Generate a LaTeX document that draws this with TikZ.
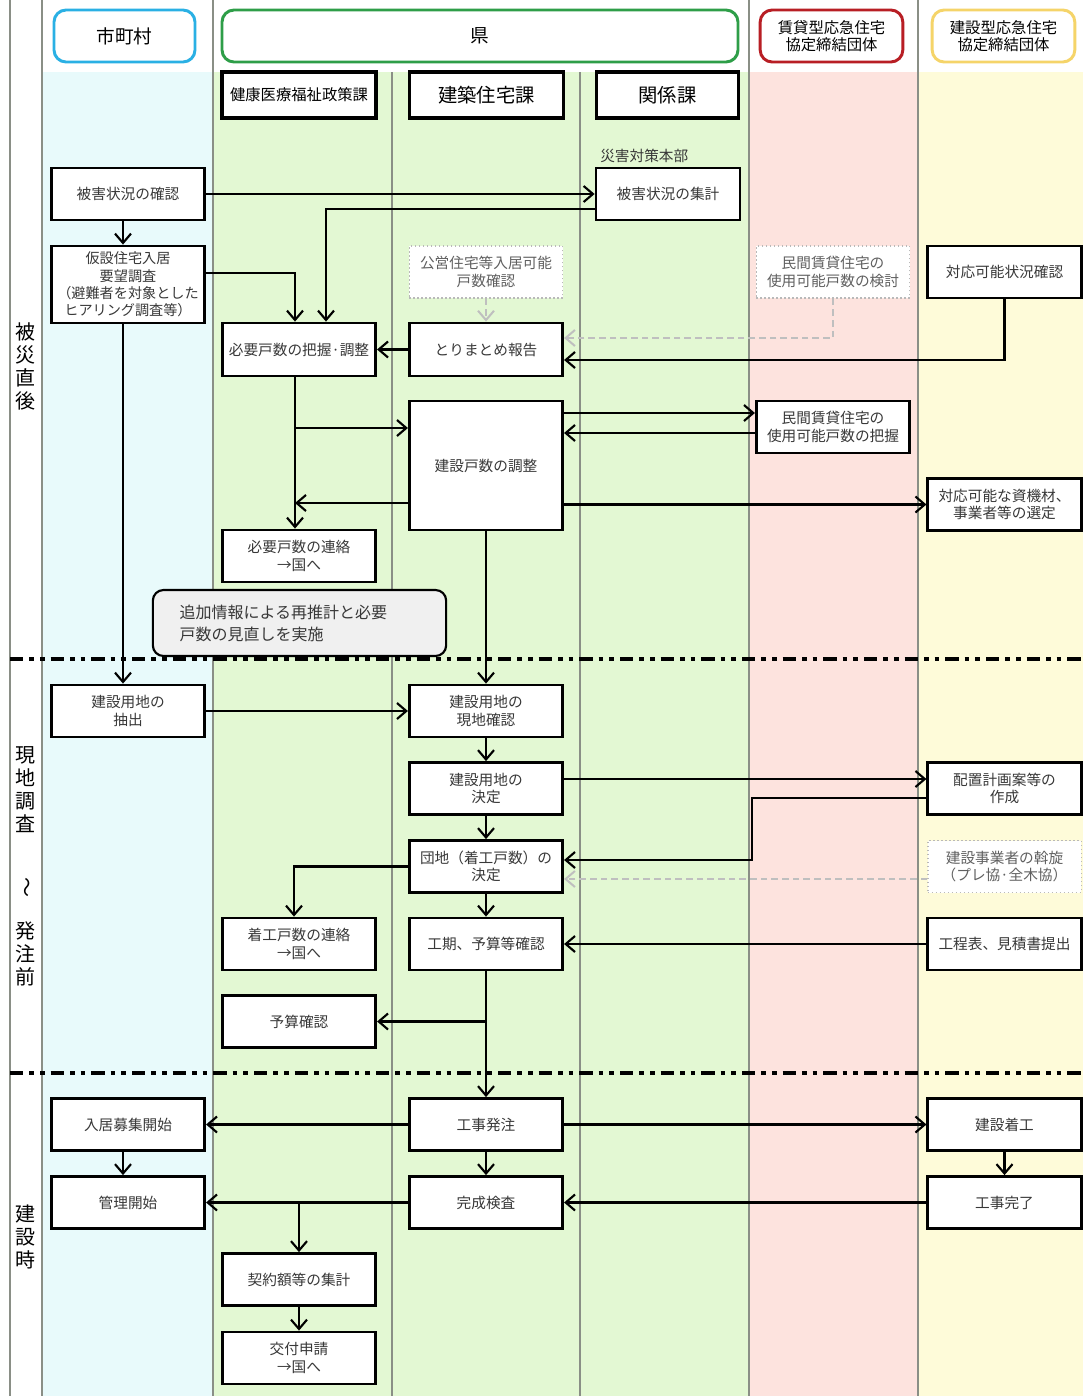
\documentclass[tikz,border=0pt]{standalone}
\usepackage{fontspec}
\setmainfont{Noto Sans CJK JP}
\usepackage{graphicx}
\usetikzlibrary{arrows.meta,calc}
\definecolor{lcyan}{HTML}{E8FAFB}
\definecolor{lgreen}{HTML}{E3F8D3}
\definecolor{lpink}{HTML}{FDE3DE}
\definecolor{lyellow}{HTML}{FEFBD9}
\definecolor{hcyan}{HTML}{2AB0E4}
\definecolor{hgreen}{HTML}{2E9E48}
\definecolor{hred}{HTML}{B81E24}
\definecolor{hyellow}{HTML}{F5D469}
\definecolor{txt}{HTML}{383838}
\definecolor{lanel}{HTML}{8A8F86}
\begin{document}
\begin{tikzpicture}[x=0.75pt,y=-0.75pt,
  every node/.style={text=txt},
  bx/.style={draw=black, line width=2.1pt, fill=white, minimum width=115pt, minimum height=39pt, inner sep=1pt, align=center, font=\fontsize{11}{13}\selectfont},
  dbx/.style={bx, draw=gray!55, line width=1pt, dotted, text=gray!75!black},
  hd/.style={draw, line width=2.2pt, rounded corners=9pt, fill=white, minimum height=39pt, align=center, text=black},
  sh/.style={draw=black, line width=2.3pt, fill=white, minimum height=34.5pt, inner sep=1pt, text=black},
  arr/.style={line width=1.6pt, draw=black, -{Straight Barb[length=7pt,width=12pt,line width=1.6pt]}},
  garr/.style={line width=1.5pt, draw=gray!50, dash pattern=on 5pt off 3pt, -{Straight Barb[length=7pt,width=12pt,line width=1.5pt]}},
  sepline/.style={line width=2.6pt, draw=black, dash pattern=on 10pt off 4.5pt on 3.5pt off 4.5pt on 3.5pt off 4.5pt},
  lane/.style={draw=lanel, line width=0.8pt},
  side/.style={font=\fontsize{15}{17.25}\selectfont, align=center, inner sep=0pt, text=black}
]
\useasboundingbox (0,0) rectangle (1083,1396);
\fill[white] (0,0) rectangle (1083,1396);
\fill[lcyan] (42,72) rectangle (213,1396);
\fill[lgreen] (213,72) rectangle (749,1396);
\fill[lpink] (749,72) rectangle (918,1396);
\fill[lyellow] (918,72) rectangle (1083,1396);
\draw[lane] (10,0) -- (10,1396);
\draw[lane] (42,0) -- (42,1396);
\draw[lane] (213,0) -- (213,1396);
\draw[lane] (749,0) -- (749,1396);
\draw[lane] (918,0) -- (918,1396);
\draw[lane] (392,72) -- (392,1396);
\draw[lane] (580,72) -- (580,1396);
\draw[sepline] (10,659) -- (1083,659);
\draw[sepline] (10,1073) -- (1083,1073);

% side labels
\node[side] (l1) at (25,366) {被\\災\\直\\後};
\node[side] (l2) at (25,866) {現\\地\\調\\査\\[17.25pt]\rotatebox{-90}{～}\\[17.25pt]発\\注\\前};
\node[side] (l3) at (25,1237) {建\\設\\時};

% headers
\node[hd, draw=hcyan, minimum width=105.75pt, font=\fontsize{14}{16}\selectfont] (hm) at (124.5,36) {市町村};
\node[hd, draw=hgreen, minimum width=387pt, font=\fontsize{14}{16}\selectfont] (hk) at (480,36) {県};
\node[hd, draw=hred, minimum width=107pt, font=\fontsize{11.5}{12.75}\selectfont] (hc) at (831.5,36) {賃貸型応急住宅\\協定締結団体};
\node[hd, draw=hyellow, minimum width=107pt, font=\fontsize{11.5}{12.75}\selectfont] (hb) at (1003.5,36) {建設型応急住宅\\協定締結団体};
\node[sh, minimum width=115.5pt, font=\fontsize{11.5}{13}\selectfont] (s1) at (299,95) {健康医療福祉政策課};
\node[sh, minimum width=115pt, font=\fontsize{14.5}{16}\selectfont] (s2) at (486.5,95) {建築住宅課};
\node[sh, minimum width=107pt, font=\fontsize{14.5}{16}\selectfont] (s3) at (667.5,95) {関係課};

% phase 1
\node[bx] (n1) at (128,194) {被害状況の確認};
\node[bx, minimum height=57.75pt, font=\fontsize{10.6}{13}\selectfont] (n2) at (128,284.5) {仮設住宅入居\\要望調査\\（避難者を対象とした\\ヒアリング調査等）};
\node[bx, minimum width=108pt] (n3) at (668,194) {被害状況の集計};
\node[anchor=west, font=\fontsize{11}{13}\selectfont, inner sep=0pt] (lab) at (600,156) {災害対策本部};
\node[bx, minimum height=39.75pt] (n4) at (299,349.5) {必要戸数の把握·調整};
\node[dbx] (n5) at (486,272) {公営住宅等入居可能\\戸数確認};
\node[bx, minimum height=39.75pt] (n6) at (486,349.5) {とりまとめ報告};
\node[dbx] (n7) at (833,272) {民間賃貸住宅の\\使用可能戸数の検討};
\node[bx] (n8) at (1004.5,272) {対応可能状況確認};
\node[bx, minimum height=96.75pt] (n9) at (486,465.5) {建設戸数の調整};
\node[bx] (n10) at (833,427) {民間賃貸住宅の\\使用可能戸数の把握};
\node[bx] (n11) at (1004.5,504.5) {対応可能な資機材、\\事業者等の選定};
\node[bx] (n12) at (299,556) {必要戸数の連絡\\→国へ};
\node[draw=black, line width=1.6pt, rounded corners=8pt, fill=gray!12, minimum height=49.5pt, text width=180pt, align=left, inner xsep=20pt, font=\fontsize{12}{16.5}\selectfont] (note) at (299.5,623) {追加情報による再推計と必要\\戸数の見直しを実施};

% phase 2
\node[bx] (n14) at (128,711) {建設用地の\\抽出};
\node[bx] (n15) at (486,711) {建設用地の\\現地確認};
\node[bx] (n16) at (486,788.5) {建設用地の\\決定};
\node[bx] (n17) at (486,866.5) {団地（着工戸数）の\\決定};
\node[bx] (n18) at (299,944) {着工戸数の連絡\\→国へ};
\node[bx] (n19) at (486,944) {工期、予算等確認};
\node[bx] (n20) at (299,1021.5) {予算確認};
\node[bx] (n21) at (1004.5,788.5) {配置計画案等の\\作成};
\node[dbx] (n22) at (1004.5,866.5) {建設事業者の斡旋\\（プレ協·全木協）};
\node[bx] (n23) at (1004.5,944) {工程表、見積書提出};

% phase 3
\node[bx] (n24) at (128,1124.5) {入居募集開始};
\node[bx] (n25) at (486,1124.5) {工事発注};
\node[bx] (n26) at (1004.5,1124.5) {建設着工};
\node[bx] (n27) at (128,1202.5) {管理開始};
\node[bx] (n28) at (486,1202.5) {完成検査};
\node[bx] (n29) at (1004.5,1202.5) {工事完了};
\node[bx] (n30) at (299,1279.5) {契約額等の集計};
\node[bx] (n31) at (299,1358) {交付申請\\→国へ};

% connectors phase 1
\draw[arr] (n1.east) -- (n3.west);
\draw[arr] ($(n1.south)+(-5,0)$) -- ($(n2.north)+(-5,0)$);
\draw[arr] ($(n3.west)+(0,15)$) -| ($(n4.north)+(27,0)$);
\draw[arr] ($(n2.east)+(0,-11.5)$) -| ($(n4.north)+(-4,0)$);
\draw[arr] ($(n2.south)+(-5,0)$) -- ($(n14.north)+(-5,0)$);
\draw[garr] (n5.south) -- (n6.north);
\draw[garr] (n7.south) |- ($(n6.east)+(0,-11.5)$);
\draw[arr] (n8.south) |- ($(n6.east)+(0,10.5)$);
\draw[arr] (n6.west) -- (n4.east);
\draw[arr] ($(n4.south)+(-4,0)$) -- ($(n12.north)+(-4,0)$);
\coordinate (j1) at (295,428);
\draw[arr] (j1) -- (j1 -| n9.west);
\coordinate (j2) at (295,503);
\draw[arr] (j2 -| n9.west) -- (j2);
\coordinate (j3) at (0,413);
\draw[arr] (j3 -| n9.east) -- (j3 -| n10.west);
\coordinate (j4) at (0,433);
\draw[arr] (j4 -| n10.west) -- (j4 -| n9.east);
\draw[arr] (n11.west -| n9.east) -- (n11.west);
\draw[arr] (n9.south) -- (n15.north);

% connectors phase 2
\draw[arr] (n14.east) -- (n15.west);
\draw[arr] (n15.south) -- (n16.north);
\draw[arr] (n16.south) -- (n17.north);
\draw[arr] (n17.south) -- (n19.north);
\draw[arr] (n17.west) -| ($(n18.north)+(-5,0)$);
\coordinate (j6) at (0,779);
\draw[arr] (j6 -| n16.east) -- (j6 -| n21.west);
\coordinate (j7) at (752,798);
\coordinate (j8) at (752,860);
\draw[arr] (j7 -| n21.west) -- (j7) -- (j8) -- (j8 -| n17.east);
\coordinate (j9) at (0,879);
\draw[garr] (j9 -| n22.west) -- (j9 -| n17.east);
\draw[arr] (n23.west) -- (n19.east);
\draw[arr] (n19.south) -- (n25.north);
\draw[arr] (n20.east -| n19.south) -- (n20.east);

% connectors phase 3
\draw[arr] (n25.west) -- (n24.east);
\draw[arr] (n25.east) -- (n26.west);
\draw[arr] (n25.south) -- (n28.north);
\draw[arr] ($(n24.south)+(-5,0)$) -- ($(n27.north)+(-5,0)$);
\draw[arr] (n26.south) -- (n29.north);
\draw[arr] (n29.west) -- (n28.east);
\draw[arr] (n28.west) -- (n27.east);
\draw[arr] (n30.north |- n27.east) -- (n30.north);
\draw[arr] (n30.south) -- (n31.north);
\end{tikzpicture}
\end{document}
